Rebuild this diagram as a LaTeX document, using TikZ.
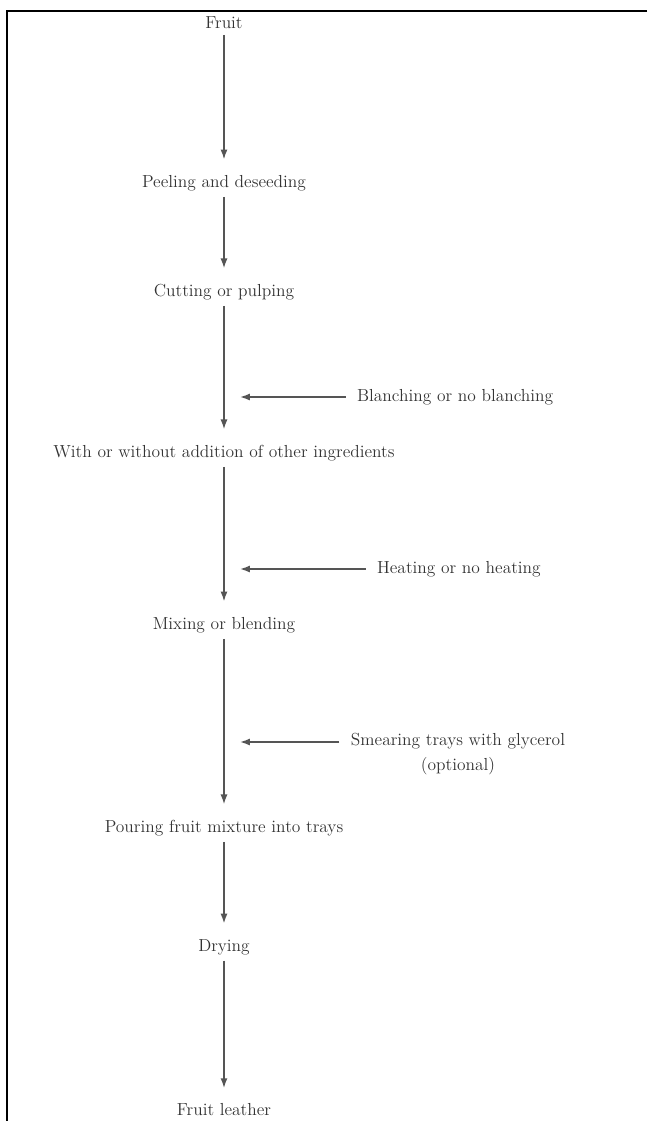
\documentclass[tikz,border=0pt]{standalone}
\usetikzlibrary{arrows.meta, positioning}
\definecolor{ink}{HTML}{333333}
\definecolor{wire}{HTML}{555555}
\tikzset{
  stage/.style ={text=ink, font=\fontsize{12.4}{18}\selectfont, inner sep=2pt},
  note/.style  ={stage, align=center},
  flow/.style  ={-{Latex[length=7pt,width=5pt]}, line width=1.1pt, draw=wire,
                 shorten <=2pt, shorten >=9pt},
  side/.style  ={-{Latex[length=7pt,width=5pt]}, line width=1.1pt, draw=wire,
                 shorten <=6pt},
  frame/.style ={line width=1.8pt, draw=black}
}
\begin{document}
\begin{tikzpicture}[x=0.025cm, y=-0.025cm]
  \useasboundingbox (0,0) rectangle (647,1121);
  \draw[frame] (647,11) -- (7,11) -- (7,1121);

  % main steps
  \node[stage] (fruit)   at (224,23)   {Fruit};
  \node[stage] (peel)    at (224,183)  {Peeling and deseeding};
  \node[stage] (cut)     at (224,292)  {Cutting or pulping};
  \node[stage] (addin)   at (224,453)  {With or without addition of other ingredients};
  \node[stage] (mix)     at (224,625)  {Mixing or blending};
  \node[stage] (pour)    at (224,828)  {Pouring fruit mixture into trays};
  \node[stage] (dry)     at (224,947)  {Drying};
  \node[stage] (leather) at (224,1110) {Fruit leather};

  % side treatments
  \node[stage, anchor=west] (blanch) at (354,397) {Blanching or no blanching};
  \node[stage, anchor=west] (heat)   at (374,569) {Heating or no heating};
  \node[note, anchor=north] (smear)  at (458,730) {Smearing trays with glycerol\\(optional)};
  \coordinate (blanchend) at (240,397);
  \coordinate (heatend)   at (240,569);
  \coordinate (smearend)  at (240,742);

  \draw[flow] (fruit) -- (peel);
  \draw[flow] (peel) -- (cut);
  \draw[flow] (cut) -- (addin);
  \draw[flow] (addin) -- (mix);
  \draw[flow] (mix) -- (pour);
  \draw[flow] (pour) -- (dry);
  \draw[flow] (dry) -- (leather);

  \draw[side] (blanch) -- (blanchend);
  \draw[side] (heat) -- (heatend);
  \draw[side] (smearend -| smear.west) -- (smearend);
\end{tikzpicture}
\end{document}
